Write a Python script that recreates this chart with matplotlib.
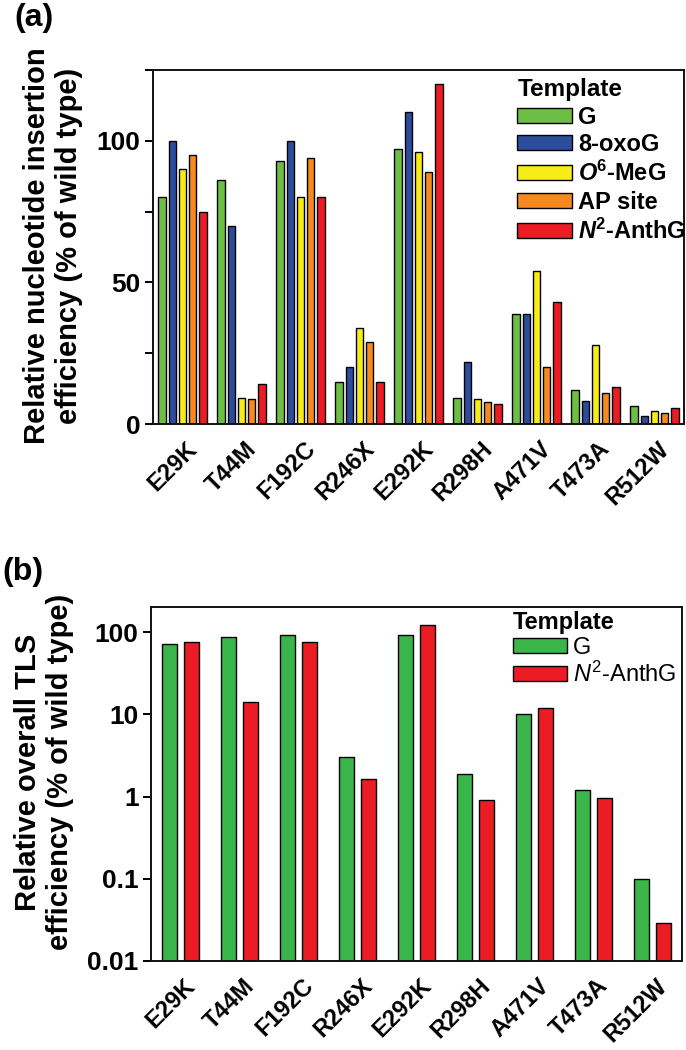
import matplotlib
matplotlib.use("Agg")
import matplotlib.pyplot as plt
import matplotlib.transforms as mtrans
import numpy as np
from matplotlib.ticker import NullLocator, FixedLocator

plt.rcParams['font.family'] = ['Liberation Sans', 'DejaVu Sans']
plt.rcParams['mathtext.fontset'] = 'custom'
plt.rcParams['mathtext.rm'] = 'Liberation Sans'
plt.rcParams['mathtext.it'] = 'Liberation Sans:italic'
plt.rcParams['mathtext.bf'] = 'Liberation Sans:bold'
plt.rcParams['mathtext.bfit'] = 'Liberation Sans:bold:italic'

# ---------------- data ----------------
mutants = ["E29K", "T44M", "F192C", "R246X", "E292K", "R298H", "A471V", "T473A", "R512W"]

# panel (a): relative nucleotide insertion efficiency (% of wild type)
a_G      = [80, 86, 93, 15, 97, 9.3, 39, 12, 6.5]
a_oxoG   = [100, 70, 100, 20, 110, 22, 39, 8.2, 2.7]
a_O6MeG  = [90, 9.3, 80, 34, 96, 9, 54, 28, 4.5]
a_AP     = [95, 8.8, 94, 29, 89, 7.9, 20, 11, 4]
a_N2     = [75, 14, 80, 15, 120, 7, 43, 13, 5.6]
a_labels = ["G", "8-oxoG", r"$\mathbfit{O}^{\mathbf{6}}$-MeG", "AP site", r"$\mathbfit{N}^{\mathbf{2}}$-AnthG"]
a_colors = ["#6dbe45", "#2c4c9c", "#f6ec17", "#f6891f", "#ec1c24"]

# panel (b): relative overall TLS efficiency (% of wild type)
b_G  = [71, 87, 91, 3.0, 91, 1.9, 10.1, 1.2, 0.1]
b_N2 = [75, 14, 75, 1.63, 121, 0.9, 11.9, 0.96, 0.029]
b_labels = ["G", r"$\mathit{N}^{2}$-AnthG"]
b_colors = ["#39b54a", "#ec1c24"]

a_yticks = [0, 50, 100]
a_yminor = [25, 75, 125]
b_yticks = [0.01, 0.1, 1, 10, 100]
b_yticklabels = ["0.01", "0.1", "1", "10", "100"]

# ---------------- figure ----------------
W, H = 686, 1050
fig = plt.figure(figsize=(W / 100, H / 100), dpi=100)

def axrect(l, r, t, b):
    return [l / W, 1 - b / H, (r - l) / W, (b - t) / H]

axA = fig.add_axes(axrect(153, 684, 70, 424))
axB = fig.add_axes(axrect(151, 682, 607, 961))

x = np.arange(len(mutants))
edge_lw = 1.0

# panel a bars
series_a = [a_G, a_oxoG, a_O6MeG, a_AP, a_N2]
pitch_a, width_a = 0.172, 0.13
for i, (vals, col, lab) in enumerate(zip(series_a, a_colors, a_labels)):
    off = (i - 2) * pitch_a
    axA.bar(x + off, vals, width=width_a, color=col, edgecolor="black",
            linewidth=edge_lw, label=lab, zorder=2)

axA.set_xlim(-0.5, len(mutants) - 0.5)
axA.set_ylim(0, 125)
axA.yaxis.set_major_locator(FixedLocator(a_yticks))
axA.yaxis.set_minor_locator(FixedLocator(a_yminor))

# panel b bars
series_b = [b_G, b_N2]
pitch_b, width_b = 0.368, 0.266
for i, (vals, col, lab) in enumerate(zip(series_b, b_colors, b_labels)):
    off = (i - 0.5) * pitch_b
    axB.bar(x + off, vals, width=width_b, color=col, edgecolor="black",
            linewidth=edge_lw, label=lab, zorder=2)
axB.set_yscale("log")
axB.set_xlim(-0.5, len(mutants) - 0.5)
axB.set_ylim(0.01, 202)
axB.set_yticks(b_yticks)
axB.set_yticklabels(b_yticklabels)
axB.yaxis.set_minor_locator(NullLocator())

offset = mtrans.ScaledTranslation(3 / 100, -2 / 100, fig.dpi_scale_trans)
for ax in (axA, axB):
    for s in ax.spines.values():
        s.set_linewidth(1.4)
        s.set_color("#111111")
    ax.set_xticks(x)
    ax.set_xticklabels(mutants, rotation=45, ha="right", va="top",
                       rotation_mode="anchor", fontsize=17, fontweight="bold")
    ax.tick_params(axis="x", length=0, pad=8)
    ax.tick_params(axis="y", which="both", direction="out", length=6, width=1.4,
                   labelsize=19, pad=3)
    for t in ax.get_yticklabels():
        t.set_fontweight("bold")
    for t in ax.get_xticklabels():
        t.set_transform(t.get_transform() + offset)

# legends
legA = axA.legend(loc="upper left", bbox_to_anchor=(0.686, 0.978), frameon=False,
                  title="Template", alignment="left",
                  prop={"size": 17, "weight": "bold"},
                  title_fontproperties={"size": 17.5, "weight": "bold"},
                  handlelength=2.3, handleheight=0.6, handletextpad=0.28,
                  labelspacing=0.2, borderpad=0, borderaxespad=0)

legB = axB.legend(loc="upper left", bbox_to_anchor=(0.682, 0.988), frameon=False,
                  title="Template", alignment="left",
                  prop={"size": 17},
                  title_fontproperties={"size": 17, "weight": "bold"},
                  handlelength=2.3, handleheight=0.62, handletextpad=0.25,
                  labelspacing=0.12, borderpad=0, borderaxespad=0)

# y labels
fig.text(53 / W, 1 - 246 / H, "Relative nucleotide insertion\nefficiency (% of wild type)",
         rotation=90, ha="center", va="center", fontsize=21, fontweight="bold",
         multialignment="center", linespacing=1.15)
fig.text(44 / W, 1 - 772 / H, "Relative overall TLS\nefficiency (% of wild type)",
         rotation=90, ha="center", va="center", fontsize=21, fontweight="bold",
         multialignment="center", linespacing=1.15)

# panel letters
fig.text(14 / W, 1 - 3 / H, "(a)", ha="left", va="top", fontsize=23, fontweight="bold")
fig.text(2 / W, 1 - 557 / H, "(b)", ha="left", va="top", fontsize=23, fontweight="bold")

fig.savefig("out.png", dpi=100)
